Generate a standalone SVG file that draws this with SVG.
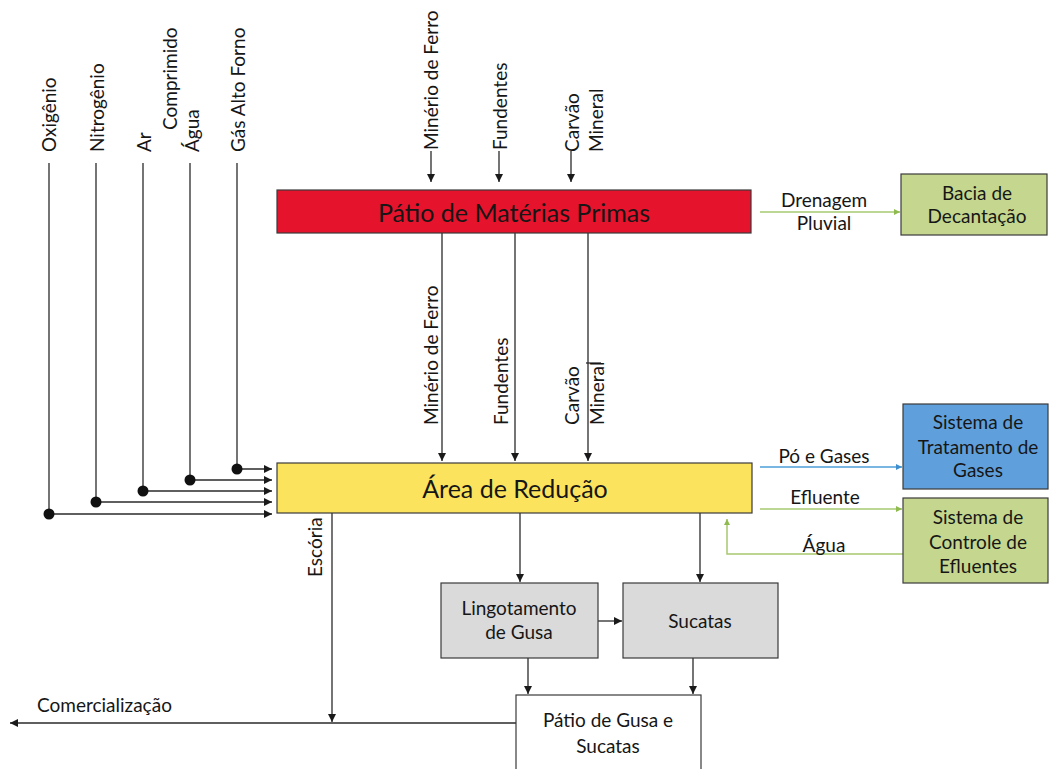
<svg xmlns="http://www.w3.org/2000/svg" width="1049" height="769" viewBox="0 0 1049 769">
<defs>
<marker id="ak" viewBox="0 0 10 10" refX="10" refY="5" markerWidth="9" markerHeight="8" markerUnits="userSpaceOnUse" orient="auto"><path d="M0,0 L10,5 L0,10 z" fill="#1a1a1a"/></marker>
<marker id="ag" viewBox="0 0 10 10" refX="10" refY="5" markerWidth="7" markerHeight="6" markerUnits="userSpaceOnUse" orient="auto"><path d="M0,0 L10,5 L0,10 z" fill="#8fba4e"/></marker>
<marker id="ab" viewBox="0 0 10 10" refX="10" refY="5" markerWidth="7" markerHeight="6" markerUnits="userSpaceOnUse" orient="auto"><path d="M0,0 L10,5 L0,10 z" fill="#3f8fd0"/></marker>
</defs>
<style>
text{font-family:Lato,"Open Sans","Liberation Sans",sans-serif;fill:#161616;}
.big{font-size:25px;text-anchor:middle;dominant-baseline:central;}
.lb{font-size:19px;}
.c{text-anchor:middle;}
.rot{dominant-baseline:central;}
.box{stroke:#3a3a3a;stroke-width:1.2;}
.ln{stroke:#2a2a2a;stroke-width:1.3;fill:none;}
.lnk{stroke:#2a2a2a;stroke-width:1.3;fill:none;marker-end:url(#ak);}
.gr{stroke:#a6c96f;stroke-width:1.5;fill:none;marker-end:url(#ag);}
.bl{stroke:#4a9fd8;stroke-width:1.5;fill:none;marker-end:url(#ab);}
.dot{fill:#111;}
</style>
<rect width="1049" height="769" fill="#ffffff"/>

<g id="connectors">
<line class="ln" x1="49" y1="163" x2="49" y2="514"/>
<line class="ln" x1="96" y1="163" x2="96" y2="502"/>
<line class="ln" x1="143" y1="163" x2="143" y2="491"/>
<line class="ln" x1="190" y1="163" x2="190" y2="480"/>
<line class="ln" x1="237" y1="163" x2="237" y2="469"/>
<line class="lnk" x1="49" y1="514" x2="272" y2="514"/>
<line class="lnk" x1="96" y1="502" x2="272" y2="502"/>
<line class="lnk" x1="143" y1="491" x2="272" y2="491"/>
<line class="lnk" x1="190" y1="480" x2="272" y2="480"/>
<line class="lnk" x1="237" y1="469" x2="272" y2="469"/>
<circle class="dot" cx="49" cy="514" r="5.5"/>
<circle class="dot" cx="96" cy="502" r="5.5"/>
<circle class="dot" cx="143" cy="491" r="5.5"/>
<circle class="dot" cx="190" cy="480" r="5.5"/>
<circle class="dot" cx="237" cy="469" r="5.5"/>
<line class="lnk" x1="431" y1="151" x2="431" y2="182"/>
<line class="lnk" x1="499" y1="151" x2="499" y2="182"/>
<line class="lnk" x1="571" y1="151" x2="571" y2="182"/>
<line class="lnk" x1="442" y1="233" x2="442" y2="461"/>
<line class="lnk" x1="515" y1="233" x2="515" y2="461"/>
<line class="lnk" x1="588" y1="233" x2="588" y2="461"/>
<line class="ln" x1="586" y1="363" x2="601" y2="363" stroke-width="1"/>
<line class="gr" x1="760" y1="212" x2="900" y2="212"/>
<line class="bl" x1="760" y1="467" x2="902" y2="467"/>
<line class="gr" x1="760" y1="509" x2="902" y2="509"/>
<polyline class="gr" points="903,554 727,554 727,519"/>
<line class="lnk" x1="332" y1="513" x2="332" y2="722"/>
<line class="lnk" x1="520" y1="513" x2="520" y2="582"/>
<line class="lnk" x1="700" y1="513" x2="700" y2="582"/>
<line class="lnk" x1="598" y1="621" x2="622" y2="621"/>
<line class="lnk" x1="528" y1="658" x2="528" y2="694"/>
<line class="lnk" x1="693" y1="658" x2="693" y2="694"/>
<line class="lnk" x1="516" y1="723" x2="10" y2="723"/>
</g>

<g id="labels">
<text class="lb rot" transform="translate(48,152) rotate(-90)">Oxigênio</text>
<text class="lb rot" transform="translate(96,152) rotate(-90)">Nitrogênio</text>
<text class="lb rot" transform="translate(143,152) rotate(-90)">Ar</text>
<text class="lb rot" transform="translate(169,130) rotate(-90)">Comprimido</text>
<text class="lb rot" transform="translate(191,152) rotate(-90)">Água</text>
<text class="lb rot" transform="translate(237,152) rotate(-90)">Gás Alto Forno</text>
<text class="lb rot" transform="translate(430,150) rotate(-90)">Minério de Ferro</text>
<text class="lb rot" transform="translate(499,150) rotate(-90)">Fundentes</text>
<text class="lb rot" transform="translate(571,152) rotate(-90)">Carvão</text>
<text class="lb rot" transform="translate(595,152) rotate(-90)">Mineral</text>
<text class="lb rot" transform="translate(430,425) rotate(-90)">Minério de Ferro</text>
<text class="lb rot" transform="translate(500,425) rotate(-90)">Fundentes</text>
<text class="lb rot" transform="translate(571,425) rotate(-90)">Carvão</text>
<text class="lb rot" transform="translate(596,425) rotate(-90)">Mineral</text>
<text class="lb rot" transform="translate(314,577) rotate(-90)">Escória</text>
<text class="lb c" x="824" y="207">Drenagem</text>
<text class="lb c" x="824" y="230">Pluvial</text>
<text class="lb c" x="824" y="463">Pó e Gases</text>
<text class="lb c" x="825" y="504">Efluente</text>
<text class="lb c" x="824" y="552">Água</text>
<text class="lb" x="37" y="712">Comercialização</text>
</g>

<g id="patio-materias">
<rect class="box" x="277" y="190" width="474" height="43" fill="#e5132b"/>
<text class="big" x="514" y="212">Pátio de Matérias Primas</text>
</g>
<g id="area-reducao">
<rect class="box" x="277" y="463" width="475" height="50" fill="#fbe35e"/>
<text class="big" x="515" y="488">Área de Redução</text>
</g>
<g id="bacia">
<rect class="box" x="901" y="174" width="146" height="61" fill="#c5d68e"/>
<text class="lb c" x="977" y="200">Bacia de</text>
<text class="lb c" x="977" y="223">Decantação</text>
</g>
<g id="tratamento-gases">
<rect class="box" x="903" y="404" width="145" height="85" fill="#5fa0dc"/>
<text class="lb c" x="978" y="429">Sistema de</text>
<text class="lb c" x="978" y="454">Tratamento de</text>
<text class="lb c" x="978" y="477">Gases</text>
</g>
<g id="controle-efluentes">
<rect class="box" x="903" y="498" width="145" height="85" fill="#c5d68e"/>
<text class="lb c" x="978" y="524">Sistema de</text>
<text class="lb c" x="978" y="549">Controle de</text>
<text class="lb c" x="978" y="573">Efluentes</text>
</g>
<g id="lingotamento">
<rect class="box" x="441" y="583" width="157" height="75" fill="#dadada"/>
<text class="lb c" x="519" y="615">Lingotamento</text>
<text class="lb c" x="519" y="639">de Gusa</text>
</g>
<g id="sucatas">
<rect class="box" x="623" y="583" width="155" height="75" fill="#dadada"/>
<text class="lb c" x="700" y="628">Sucatas</text>
</g>
<g id="patio-gusa">
<rect class="box" x="516" y="695" width="185" height="85" fill="#ffffff"/>
<text class="lb c" x="608" y="727">Pátio de Gusa e</text>
<text class="lb c" x="608" y="753">Sucatas</text>
</g>
</svg>
